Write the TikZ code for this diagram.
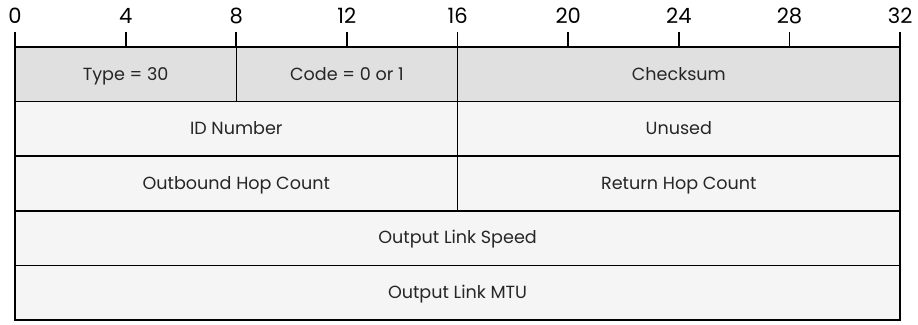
\documentclass[tikz,border=0pt]{standalone}
\usepackage{fontspec}
\setmainfont{Poppins}
\usepackage{xcolor}
\usepackage{tikz}
\usetikzlibrary{positioning}
\definecolor{hdr}{RGB}{224,224,224}
\definecolor{rowbg}{RGB}{245,245,245}
\tikzset{field/.style={draw,line width=0.8pt,fill=rowbg,minimum width=#1*0.5532cm,minimum height=1.092cm,
    inner sep=0pt,outer sep=0pt,text height=1.6ex,text depth=0.4ex,text=black!85,
    font=\fontsize{10}{12}\selectfont,anchor=north west},
  field/.default=16,
  hfield/.style={field=#1,fill=hdr},
  bittick/.style={line width=1pt},
  bitlbl/.style={font=\fontsize{12}{14}\selectfont,inner sep=0pt}}
\begin{document}
\begin{tikzpicture}[node distance=0pt]
\useasboundingbox (-0.3,-5.56) rectangle (18.06,0.94);
% first row
\node[hfield=8] (type) at (0,0) {Type = 30};
\node[hfield=8,right=of type] (code) {Code = 0 or 1};
\node[hfield=16,right=of code] (csum) {Checksum};
% second and third rows
\node[field=16] (id) at (0,-1.092) {ID Number};
\node[field=16,right=of id] (unused) {Unused};
\node[field=16] (ohc) at (0,-2.184) {Outbound Hop Count};
\node[field=16,right=of ohc] (rhc) {Return Hop Count};
% full rows
\node[field=32] (speed) at (0,-3.276) {Output Link Speed};
\node[field=32] (mtu) at (0,-4.368) {Output Link MTU};
\draw[line width=1.4pt] (type.north west) rectangle (mtu.south east);
% bit scale
\foreach \b in {0,4,...,32}{
  \coordinate (t\b) at (\b*0.5532,0);
  \draw[bittick] (t\b) -- ++(0,0.3);
  \node[bitlbl] (l\b) at (\b*0.5532,0.62) {\b};
}
\end{tikzpicture}
\end{document}
